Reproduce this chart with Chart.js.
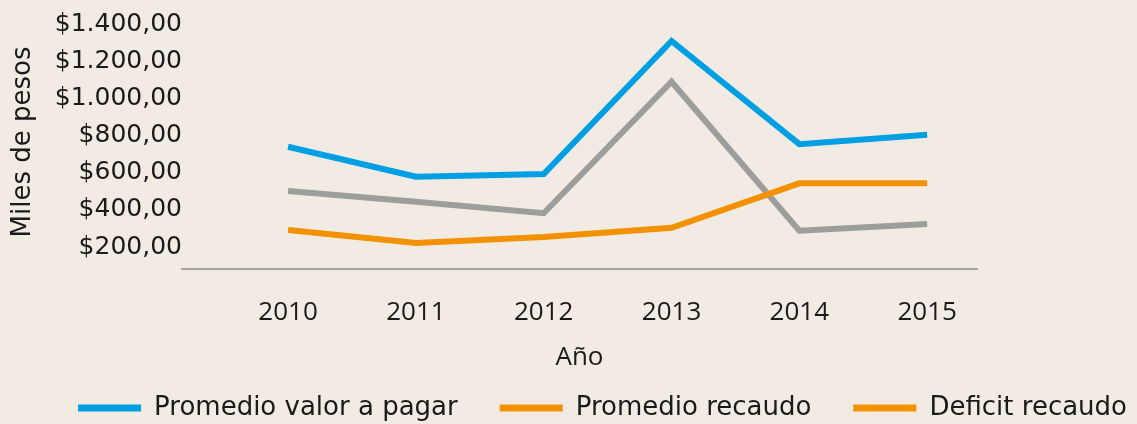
<!DOCTYPE html>
<html>
<head>
<meta charset="utf-8">
<script src="https://cdn.jsdelivr.net/npm/chart.js@4.4.1/dist/chart.umd.min.js"></script>
<style>
    html, body { margin: 0; padding: 0; background: #f1ebe4; }
    #wrap { width: 1137px; height: 424px; position: relative; }
</style>
</head>
<body>
<div id="wrap"><canvas id="lineChart"></canvas></div>
<script>
// values (miles de pesos)
const years = [2010, 2011, 2012, 2013, 2014, 2015];
const valorPagar = [729, 568, 582, 1298, 743, 794];
const recaudo = [281, 211, 243, 293, 532, 532];
const deficit = [491, 433, 371, 1079, 277, 313];
const yTicks = [200, 400, 600, 800, 1000, 1200, 1400];

const seriesNames = ['Promedio valor a pagar', 'Promedio recaudo', 'Deficit recaudo'];
const lineColors = ['#009fe3', '#f39200', '#9d9d9c'];
// the source legend shows the deficit series in orange too
const legendColors = ['#009fe3', '#f39200', '#f39200'];

function pesos(v) {
    const int = Math.round(v).toString().replace(/\B(?=(\d{3})+(?!\d))/g, '.');
    return '$' + int + ',00';
}

const toPoints = arr => arr.map((v, i) => ({ x: years[i], y: v }));

const ctx = document.getElementById('lineChart').getContext('2d');
new Chart(ctx, {
    type: 'line',
    data: {
        datasets: [valorPagar, recaudo, deficit].map((arr, i) => ({
            label: seriesNames[i],
            data: toPoints(arr),
            borderColor: lineColors[i],
            backgroundColor: legendColors[i],
            borderWidth: 6,
            pointRadius: 0,
            tension: 0,
            borderJoinStyle: 'miter'
        }))
    },
    options: {
        responsive: true,
        maintainAspectRatio: false,
        animation: false,
        layout: { padding: { top: 15, left: 0, right: -32, bottom: -7 } },
        scales: {
            x: {
                type: 'linear',
                min: 2009.17,
                max: 2015.39,
                grid: { display: false, drawTicks: false },
                border: { display: true, color: '#a3a3a3', width: 2 },
                afterBuildTicks: s => { s.ticks = years.map(v => ({ value: v })); },
                afterFit: s => { s.height = 84; },
                ticks: {
                    padding: 28,
                    color: '#1a1a1a',
                    font: { family: 'Open Sans', size: 26 },
                    callback: v => String(v)
                },
                title: {
                    display: true,
                    text: 'Año',
                    color: '#1a1a1a',
                    font: { family: 'Open Sans', size: 26 },
                    padding: { top: 0, bottom: -20 }
                }
            },
            y: {
                min: 71,
                max: 1438,
                grid: { display: false, drawTicks: false },
                border: { display: false },
                afterBuildTicks: s => { s.ticks = yTicks.map(v => ({ value: v })); },
                afterFit: s => { s.width = 182; },
                ticks: {
                    autoSkip: false,
                    padding: 0,
                    labelOffset: 2,
                    color: '#1a1a1a',
                    font: { family: 'DejaVu Sans', size: 25 },
                    callback: v => pesos(v)
                },
                title: {
                    display: true,
                    text: 'Miles de pesos',
                    color: '#1a1a1a',
                    font: { family: 'DejaVu Sans', size: 26 },
                    padding: { top: 8, bottom: 0 }
                }
            },
            yRight: {
                position: 'right',
                display: true,
                grid: { display: false, drawTicks: false },
                border: { display: false },
                ticks: { display: false },
                afterFit: s => { s.width = 192; }
            }
        },
        plugins: {
            legend: {
                position: 'bottom',
                align: 'end',
                labels: {
                    color: '#1a1a1a',
                    font: { family: 'DejaVu Sans', size: 26 },
                    boxWidth: 63,
                    boxHeight: 7,
                    padding: 42,
                    generateLabels: chart => chart.data.datasets.map((ds, i) => ({
                        text: ds.label,
                        fillStyle: legendColors[i],
                        strokeStyle: legendColors[i],
                        lineWidth: 0,
                        hidden: false,
                        datasetIndex: i,
                        fontColor: '#1a1a1a'
                    }))
                }
            },
            tooltip: { enabled: false }
        }
    }
});
</script>
</body>
</html>
